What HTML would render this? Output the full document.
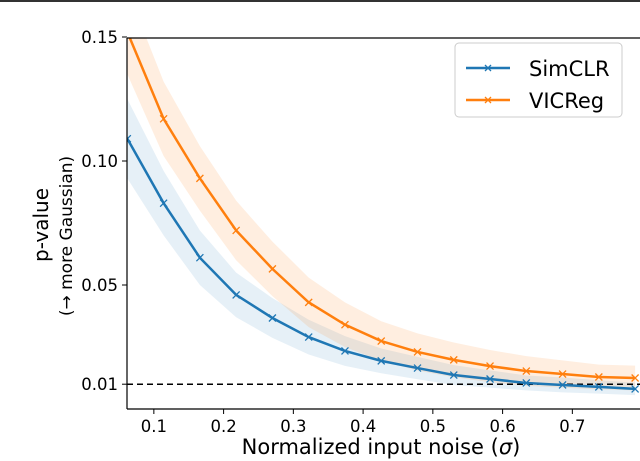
<!DOCTYPE html>
<html><head><meta charset="utf-8"><style>
html,body{margin:0;padding:0;background:#fff;}
svg{display:block;font-family:"DejaVu Sans","Liberation Sans",sans-serif;}
</style></head><body>
<svg id="chart" width="640" height="461" viewBox="0 0 640 461" xmlns="http://www.w3.org/2000/svg">
<line x1="0" y1="1" x2="640" y2="1" stroke="#333" stroke-width="2"/>
<defs><clipPath id="plotclip"><rect x="127" y="38" width="513" height="371"/></clipPath></defs>
<g id="bands" clip-path="url(#plotclip)"></g>
<line id="refline" stroke="#000" stroke-width="1.5" stroke-dasharray="6,4"/>
<g id="lines" clip-path="url(#plotclip)"></g>
<g id="axes"></g>
<line x1="127" y1="38" x2="127" y2="409" stroke="#000" stroke-width="1.2"/>
<line x1="127" y1="409" x2="640" y2="409" stroke="#000" stroke-width="1.2"/>
<line x1="127" y1="38" x2="640" y2="38" stroke="#000" stroke-width="1.2"/>
<text transform="translate(48,225) rotate(-90)" text-anchor="middle" font-size="20">p-value</text>
<text transform="translate(72,236) rotate(-90)" text-anchor="middle" font-size="17">(→ more Gaussian)</text>
<text x="381" y="454" text-anchor="middle" font-size="21">Normalized input noise (<tspan font-style="italic">σ</tspan>)</text>
<g>
<rect x="455" y="43" width="167" height="74" rx="4" fill="#fff" fill-opacity="0.85" stroke="#ccc"/>
<g>
<line x1="466" y1="68" x2="510" y2="68" stroke="#1f77b4" stroke-width="2.5"/>
<path d="M485,65L491,71M485,71L491,65" stroke="#1f77b4" stroke-width="1.3"/>
<text x="529" y="76" font-size="21">SimCLR</text>
</g>
<g>
<line x1="466" y1="100" x2="510" y2="100" stroke="#ff7f0e" stroke-width="2.5"/>
<path d="M485,97L491,103M485,103L491,97" stroke="#ff7f0e" stroke-width="1.3"/>
<text x="529" y="108" font-size="21">VICReg</text>
</g>
</g>
</svg>
<script>
const xValues = [0.062,0.114,0.166,0.218,0.270,0.322,0.374,0.426,0.478,0.530,0.582,0.634,0.686,0.738,0.790];
const simclrValues = [0.109,0.083,0.061,0.046,0.0367,0.029,0.0234,0.0194,0.0165,0.0137,0.0121,0.0105,0.0097,0.0089,0.0081];
const simclrErr = [0.016,0.013,0.011,0.009,0.008,0.007,0.006,0.005,0.0045,0.004,0.0035,0.003,0.003,0.0027,0.0025];
const vicregValues = [0.152,0.117,0.093,0.072,0.0565,0.043,0.034,0.0274,0.023,0.0198,0.0173,0.0153,0.0141,0.0129,0.0125];
const vicregErr = [0.017,0.015,0.013,0.012,0.011,0.010,0.009,0.008,0.0075,0.007,0.0065,0.006,0.0055,0.005,0.005];
const xTicks = [0.1,0.2,0.3,0.4,0.5,0.6,0.7];
const yTicks = [0.01,0.05,0.10,0.15];
const yTickLabels = ["0.01","0.05","0.10","0.15"];
const refValue = 0.01;

const NS="http://www.w3.org/2000/svg";
const X0=127,X1=640,Y0=409,Y1=38;
const xmin=0.0615,xmax=0.797,ymin=0,ymax=0.1496;
const sx=v=>X0+(v-xmin)/(xmax-xmin)*(X1-X0);
const sy=v=>Y0-(v-ymin)/(ymax-ymin)*(Y0-Y1);
function mk(tag,attrs,parent){const e=document.createElementNS(NS,tag);for(const k in attrs)e.setAttribute(k,attrs[k]);parent.appendChild(e);return e;}
const bands=document.getElementById('bands'),lines=document.getElementById('lines'),axes=document.getElementById('axes');
function series(vals,err,color,fillOp,name){
  let up=vals.map((v,i)=>sx(xValues[i])+','+sy(v+err[i]));
  let dn=vals.map((v,i)=>sx(xValues[i])+','+sy(v-err[i])).reverse();
  const b=mk('polygon',{points:up.concat(dn).join(' '),fill:color,'fill-opacity':fillOp},bands);
  
  
  const l=mk('polyline',{points:vals.map((v,i)=>sx(xValues[i])+','+sy(v)).join(' '),fill:'none',stroke:color,'stroke-width':2.5},lines);
  
  
  vals.forEach((v,i)=>{
    const cx=sx(xValues[i]),cy=sy(v),s=3.5;
    const m=mk('path',{d:`M${cx-s},${cy-s}L${cx+s},${cy+s}M${cx-s},${cy+s}L${cx+s},${cy-s}`,stroke:color,'stroke-width':1.3},lines);
    
    
  });
}
series(simclrValues,simclrErr,'#1f77b4',0.11,'simclr');
series(vicregValues,vicregErr,'#ff7f0e',0.13,'vicreg');
const rl=document.getElementById('refline');
rl.setAttribute('x1',X0);rl.setAttribute('x2',X1);rl.setAttribute('y1',sy(refValue));rl.setAttribute('y2',sy(refValue));
xTicks.forEach(t=>{
  const x=sx(t);
  const tk=mk('line',{x1:x,x2:x,y1:Y0,y2:Y0+5,stroke:'#000','stroke-width':1},axes);
  
  
  const tx=mk('text',{x:x,y:Y0+23,'text-anchor':'middle','font-size':16.5},axes);
  tx.textContent=t.toFixed(1);
  
  
});
yTicks.forEach((t,i)=>{
  const y=sy(t);
  const tk=mk('line',{x1:X0-5,x2:X0,y1:y,y2:y,stroke:'#000','stroke-width':1},axes);
  
  
  const tx=mk('text',{x:X0-9,y:y+6,'text-anchor':'end','font-size':16.5},axes);
  tx.textContent=yTickLabels[i];
  
  
});
</script>
</body></html>
